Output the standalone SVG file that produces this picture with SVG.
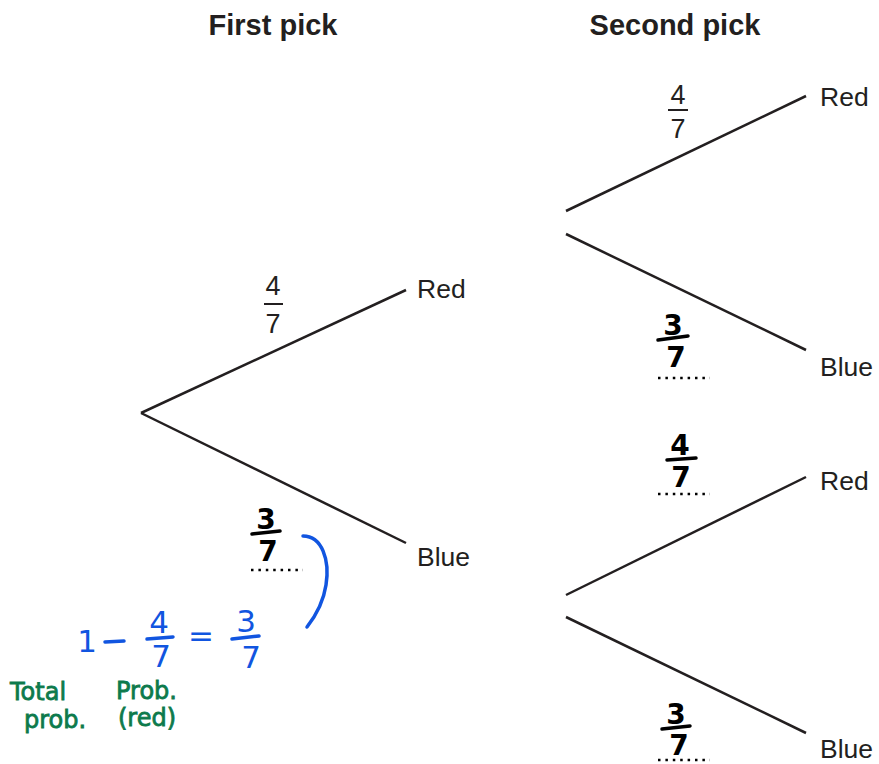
<svg xmlns="http://www.w3.org/2000/svg" width="879" height="764" viewBox="0 0 879 764">
<style>
.lbl{font-family:"Liberation Sans",Arial,sans-serif;font-size:26.5px;fill:#231f20}
.hdr{font-family:"Liberation Sans",Arial,sans-serif;font-size:29px;font-weight:bold;fill:#231f20;text-anchor:middle}
.fr{font-family:"Liberation Sans",Arial,sans-serif;font-size:27px;fill:#231f20;text-anchor:middle}
.br{stroke:#231f20;stroke-width:2.5;fill:none}
.hw{font-family:"DejaVu Sans",sans-serif;font-weight:bold;font-size:28px;fill:#000;text-anchor:middle}
.hwl{stroke:#000;stroke-width:3.5;stroke-linecap:round}
.dot{stroke:#000;stroke-width:2.5;stroke-dasharray:2.5 4.9}
.blue{font-family:"DejaVu Sans",sans-serif;font-size:31px;fill:#1155e0;text-anchor:middle}
.bl{stroke:#1155e0;stroke-width:3.5;stroke-linecap:round;fill:none}
.grn{font-family:"DejaVu Sans",sans-serif;font-size:24px;fill:#0d7a4c;stroke:#0d7a4c;stroke-width:0.8}
</style>
<g id="headers">
<text class="hdr" x="273" y="35">First pick</text>
<text class="hdr" x="675" y="35">Second pick</text>
</g>
<g id="connectors">
<line class="br" x1="141" y1="413" x2="406" y2="290"/>
<line class="br" x1="141" y1="413" x2="406" y2="543"/>
<line class="br" x1="566" y1="211" x2="806" y2="96"/>
<line class="br" x1="566" y1="234" x2="806" y2="350"/>
<line class="br" x1="566" y1="595" x2="806" y2="477"/>
<line class="br" x1="566" y1="617" x2="806" y2="733"/>
</g>
<g id="node-red1"><text class="lbl" x="417" y="298">Red</text></g>
<g id="node-blue1"><text class="lbl" x="417" y="566">Blue</text></g>
<g id="node-red2a"><text class="lbl" x="820" y="106">Red</text></g>
<g id="node-blue2a"><text class="lbl" x="820" y="376">Blue</text></g>
<g id="node-red2b"><text class="lbl" x="820" y="490">Red</text></g>
<g id="node-blue2b"><text class="lbl" x="820" y="758">Blue</text></g>
<g id="prob-first-red">
<text class="fr" x="273" y="295">4</text>
<line x1="264" y1="304" x2="283" y2="304" stroke="#231f20" stroke-width="2"/>
<text class="fr" x="273" y="333">7</text>
</g>
<g id="prob-second-red">
<text class="fr" x="678" y="104">4</text>
<line x1="668" y1="110" x2="688" y2="110" stroke="#231f20" stroke-width="2"/>
<text class="fr" x="678" y="138">7</text>
</g>
<g id="hw-first-blue">
<text class="hw" x="266" y="529">3</text>
<line class="hwl" x1="252" y1="534" x2="280" y2="531"/>
<text class="hw" x="268" y="561">7</text>
<line class="dot" x1="251" y1="570" x2="303" y2="570"/>
</g>
<g id="hw-second-blue-a">
<text class="hw" x="673" y="335">3</text>
<line class="hwl" x1="658" y1="340" x2="688" y2="336"/>
<text class="hw" x="676" y="367">7</text>
<line class="dot" x1="658" y1="378" x2="710" y2="378"/>
</g>
<g id="hw-second-red-b">
<text class="hw" x="680" y="455">4</text>
<line class="hwl" x1="667" y1="460" x2="696" y2="458"/>
<text class="hw" x="681" y="487">7</text>
<line class="dot" x1="658" y1="494" x2="710" y2="494"/>
</g>
<g id="hw-second-blue-b">
<text class="hw" x="676" y="724">3</text>
<line class="hwl" x1="662" y1="729" x2="690" y2="726"/>
<text class="hw" x="679" y="755">7</text>
<line class="dot" x1="658" y1="760" x2="710" y2="760"/>
</g>
<g id="working">
<path class="bl" d="M303,536 C322,536 330,560 326,585 C323,605 314,618 307,627"/>
<text class="blue" x="87" y="652">1</text>
<line class="bl" x1="105" y1="642" x2="124" y2="641"/>
<text class="blue" x="159" y="633">4</text>
<line class="bl" x1="147" y1="639" x2="173" y2="637"/>
<text class="blue" x="161" y="667">7</text>
<text class="blue" x="201" y="646">=</text>
<text class="blue" x="246" y="632">3</text>
<line class="bl" x1="232" y1="639" x2="259" y2="636"/>
<text class="blue" x="251" y="668">7</text>
<text class="grn" x="10" y="700">Total</text>
<text class="grn" x="116" y="699">Prob.</text>
<text class="grn" x="24" y="728">prob.</text>
<text class="grn" x="118" y="726">(red)</text>
</g>
</svg>
